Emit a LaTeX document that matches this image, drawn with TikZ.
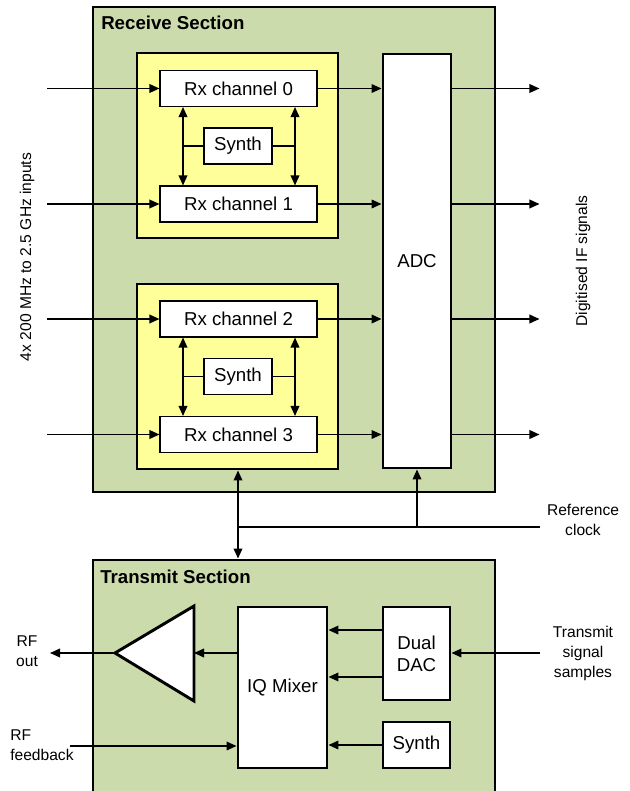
\documentclass[tikz,border=0pt]{standalone}
\usepackage{fontspec}
\setmainfont{Liberation Sans}
\usetikzlibrary{arrows.meta,fit,positioning,calc}
\definecolor{secgreen}{RGB}{204,219,171}
\definecolor{chipyellow}{RGB}{255,255,153}
\tikzset{
  sectionbox/.style={draw, line width=2.2pt, fill=secgreen, inner sep=0pt},
  groupbox/.style={draw, line width=2.2pt, fill=chipyellow, inner sep=0pt},
  thinbox/.style={draw, line width=0.8pt, fill=white, inner sep=0pt, minimum height=27pt, font=\fontsize{14}{16}\selectfont},
  thickbox/.style={draw, line width=2.2pt, fill=white, inner sep=0pt, align=center, font=\fontsize{14}{16.5}\selectfont},
  title/.style={anchor=west, inner sep=0pt, font=\fontsize{14}{16}\selectfont\bfseries},
  tag/.style={align=center, inner sep=0pt, font=\fontsize{11.7}{15}\selectfont},
  wire/.style={line width=1.1pt},
  arr/.style={line width=1.1pt, -{Triangle[length=7.5pt,width=6.5pt]}},
  biarr/.style={line width=1.1pt, {Triangle[length=7.5pt,width=6.5pt]}-{Triangle[length=7.5pt,width=6.5pt]}},
}

\begin{document}
\begin{tikzpicture}[x=0.75pt,y=-0.75pt]
        \clip (0,0) rectangle (629,791);
        % Receive section and its two channel groups
        \node[sectionbox, fit={(93,7) (495,492)}] (rxsec) {};
        \node[title] (rxtitle) at (101,23) {Receive Section};
        \node[groupbox, fit={(137,53) (338,238)}] (grpA) {};
        \node[groupbox, fit={(137,284) (338,469)}] (grpB) {};
        \node[thinbox, minimum width=117.75pt] (rx0) at (238.5,88.5) {Rx channel 0};
        \node[thinbox, minimum width=117.75pt] (rx1) at (238.5,204) {Rx channel 1};
        \node[thinbox, minimum width=117.75pt] (rx2) at (238.5,319) {Rx channel 2};
        \node[thinbox, minimum width=117.75pt] (rx3) at (238.5,434.5) {Rx channel 3};
        \node[thinbox, minimum width=51pt] (synA) at (238,146) {Synth};
        \node[thinbox, minimum width=51pt] (synB) at (238,376.5) {Synth};
        \node[thickbox, minimum width=51pt, minimum height=310.5pt] (adc) at (417,261) {ADC};
        % Synth feeds to the channels
        \coordinate (colL) at (183,0);
        \coordinate (colR) at (295,0);
        \draw[biarr] (rx0.south -| colL) -- (rx1.north -| colL);
        \draw[biarr] (rx0.south -| colR) -- (rx1.north -| colR);
        \draw[biarr] (rx2.south -| colL) -- (rx3.north -| colL);
        \draw[biarr] (rx2.south -| colR) -- (rx3.north -| colR);
        \draw[wire] (synA.west) -- (synA.west -| colL);
        \draw[wire] (synA.east) -- (synA.east -| colR);
        \draw[wire] (synB.west) -- (synB.west -| colL);
        \draw[wire] (synB.east) -- (synB.east -| colR);
        % Signal path through each channel
        \foreach \i in {0,...,3}{
          \path (rx\i.west) ++(-112,0) coordinate (in\i);
          \path (adc.east |- rx\i.east) ++(87,0) coordinate (out\i);
          \draw[arr] (in\i) -- (rx\i.west);
          \draw[arr] (rx\i.east) -- (rx\i.east -| adc.west);
          \draw[arr] (adc.east |- rx\i.east) -- (out\i);
        }
        \node[tag, rotate=90] (inlab) at (27,257) {4x 200 MHz to 2.5 GHz inputs};
        \node[tag, rotate=90] (outlab) at (583,261) {Digitised IF signals};
        % Transmit section
        \node[sectionbox, fit={(93,560) (495,800)}] (txsec) {};
        \node[title] (txtitle) at (100,577) {Transmit Section};
        \coordinate (ampout) at (115,653);
        \coordinate (ampin) at (194,653);
        \draw[line width=2.2pt, fill=white] (ampout) -- (194,606) -- (194,701) -- cycle;
        \node[thickbox, minimum width=66.75pt, minimum height=120.75pt] (iq) at (282.5,687.5) {IQ Mixer};
        \node[thickbox, minimum width=50.25pt, minimum height=69.75pt] (dac) at (416.5,653.5) {Dual\\DAC};
        \node[thickbox, minimum width=50.25pt, minimum height=34.5pt] (synT) at (416.5,745) {Synth};
        \draw[arr] (iq.west |- ampin) -- (ampin);
        \coordinate (rfout) at (50,653);
        \draw[arr] (ampout) -- (rfout);
        \node[tag] (rfoutlab) at (27,651) {RF\\out};
        \coordinate (fbin) at (70,746);
        \draw[arr] (fbin) -- (fbin -| iq.west);
        \node[tag, anchor=west, align=left] (fblab) at (10,745) {RF\\feedback};
        \draw[arr] ([yshift=17.6pt]dac.west) -- ([yshift=17.6pt]dac.west -| iq.east);
        \draw[arr] ([yshift=-17.6pt]dac.west) -- ([yshift=-17.6pt]dac.west -| iq.east);
        \draw[arr] (synT.west) -- (synT.west -| iq.east);
        \coordinate (txin) at (540,653);
        \draw[arr] (txin) -- (txin -| dac.east);
        \node[tag] (txlab) at (583,653) {Transmit\\signal\\samples};
        % Reference clock distribution
        \node[tag] (clklab) at (583,520) {Reference\\clock};
        \coordinate (clk) at (540,527);
        \coordinate (jA) at (238,527);
        \coordinate (jB) at (adc.south |- clk);
        \draw[wire] (clk) -- (jA);
        \draw[arr] (jB) -- (adc.south);
        \draw[arr] (jA) -- (jA |- grpB.south);
        \draw[arr] (jA) -- (jA |- txsec.north);
    \end{tikzpicture}
\end{document}
